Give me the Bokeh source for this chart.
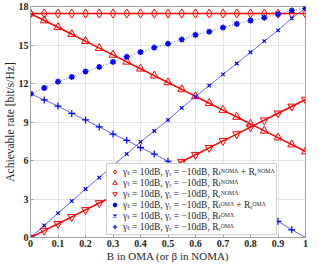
from bokeh.plotting import figure
from bokeh.models import Range1d, FixedTicker, Legend, LegendItem
from bokeh.embed import file_html
from bokeh.resources import INLINE

x = [0, 0.05, 0.1, 0.15, 0.2, 0.25, 0.3, 0.35, 0.4, 0.45, 0.5,
     0.55, 0.6, 0.65, 0.7, 0.75, 0.8, 0.85, 0.9, 0.95, 1.0]

noma_sum = [17.45] * 21
noma_t = [17.45, 16.91, 16.38, 15.84, 15.30, 14.76, 14.23, 13.69, 13.15, 12.61, 12.08,
          11.54, 11.00, 10.46, 9.93, 9.39, 8.85, 8.31, 7.78, 7.24, 6.70]
noma_r = [0.0, 0.54, 1.07, 1.61, 2.15, 2.69, 3.22, 3.76, 4.30, 4.84, 5.38,
          5.91, 6.45, 6.99, 7.53, 8.06, 8.60, 9.14, 9.68, 10.21, 10.75]
oma_sum = [11.2, 11.65, 12.14, 12.51, 12.94, 13.29, 13.68, 14.08, 14.45, 14.8, 15.1,
           15.42, 15.79, 16.04, 16.36, 16.64, 16.91, 17.13, 17.4, 17.68, 17.87]
oma_t = [0.0, 0.93, 1.9, 2.84, 3.78, 4.67, 5.62, 6.51, 7.45, 8.3, 9.16,
         10.1, 10.98, 11.84, 12.71, 13.56, 14.43, 15.3, 16.14, 17.08, 17.87]
oma_r = [11.2, 10.72, 10.24, 9.67, 9.16, 8.62, 8.06, 7.57, 7.0, 6.5, 5.94,
         5.32, 4.81, 4.2, 3.65, 3.08, 2.48, 1.83, 1.26, 0.6, 0.0]

x_ticks = [0, 0.1, 0.2, 0.3, 0.4, 0.5, 0.6, 0.7, 0.8, 0.9, 1]
x_tick_labels = ["0", "0.1", "0.2", "0.3", "0.4", "0.5", "0.6", "0.7", "0.8", "0.9", "1"]
y_ticks = [0, 3, 6, 9, 12, 15, 18]

labels = [
    "γₜ = 10dB, γᵣ = −10dB, Rₜᴺᴼᴹᴬ + Rᵣᴺᴼᴹᴬ",
    "γₜ = 10dB, γᵣ = −10dB, Rₜᴺᴼᴹᴬ",
    "γₜ = 10dB, γᵣ = −10dB, Rᵣᴺᴼᴹᴬ",
    "γₜ = 10dB, γᵣ = −10dB, Rₜᴼᴹᴬ + Rᵣᴼᴹᴬ",
    "γₜ = 10dB, γᵣ = −10dB, Rₜᴼᴹᴬ",
    "γₜ = 10dB, γᵣ = −10dB, Rᵣᴼᴹᴬ",
]

SERIF = "Liberation Serif, DejaVu Serif, serif"

p = figure(width=311, height=264, output_backend="svg", toolbar_location=None,
           x_range=Range1d(0, 1), y_range=Range1d(0, 18),
           min_border_left=14, min_border_right=6, min_border_top=6, min_border_bottom=20)

p.xaxis.ticker = FixedTicker(ticks=x_ticks)
p.xaxis.major_label_overrides = {t: l for t, l in zip(x_ticks, x_tick_labels)}
p.yaxis.ticker = FixedTicker(ticks=y_ticks)
for ax in (p.xaxis, p.yaxis):
    ax.major_label_text_font = SERIF
    ax.major_label_text_font_style = "bold"
    ax.major_label_text_font_size = "10px"
    ax.major_label_text_color = "#262626"
    ax.axis_label_text_font = SERIF
    ax.axis_label_text_font_style = "normal"
    ax.axis_label_text_color = "#262626"
    ax.axis_line_color = "#a0a0a0"
    ax.major_tick_line_color = "#a0a0a0"
    ax.major_tick_in = 3
    ax.major_tick_out = 0
    ax.minor_tick_line_color = None
    ax.major_label_standoff = 2
    ax.axis_label_standoff = 0
p.xaxis.axis_label_text_font_size = "11px"
p.yaxis.axis_label_text_font_size = "11.5px"
p.xaxis.axis_label = "B in OMA (or β in NOMA)"
p.yaxis.axis_label = "Achievable rate [bit/s/Hz]"
p.outline_line_color = "#a0a0a0"
p.grid.grid_line_color = "#e6e6e6"
p.grid.grid_line_width = 1

RED = "#ff0000"
BLUE = "#0000ff"

# lines
p.line(x, noma_sum, line_color=RED, line_width=1.5)
p.line(x, noma_t, line_color=RED, line_width=1.5)
p.line(x, noma_r, line_color=RED, line_width=1.5)
p.line(x, oma_sum, line_color=BLUE, line_width=1, line_alpha=0.6, line_dash="1 2")
p.line(x, oma_t, line_color=BLUE, line_width=1, line_alpha=0.6)
p.line(x, oma_r, line_color=BLUE, line_width=1, line_alpha=0.6)

# markers
m1 = p.scatter(x, noma_sum, marker="diamond", size=9, fill_color=None, line_color=RED, line_width=1)
m2 = p.scatter(x, noma_t, marker="triangle", size=8, fill_color=None, line_color=RED, line_width=1)
m3 = p.scatter(x, noma_r, marker="inverted_triangle", size=8, fill_color=None, line_color=RED, line_width=1)
m4 = p.scatter(x, oma_sum, marker="asterisk", size=6, line_color=BLUE, line_width=1.5)
m5 = p.scatter(x, oma_t, marker="x", size=5, line_color=BLUE, line_width=1.2)
m6 = p.scatter(x, oma_r, marker="cross", size=7, line_color=BLUE, line_width=1.2)

legend = Legend(items=[LegendItem(label=l, renderers=[r]) for l, r in
                       zip(labels, [m1, m2, m3, m4, m5, m6])],
                location=(76, 2))
legend.label_text_font = SERIF
legend.label_text_font_size = "9.5px"
legend.label_text_color = "#262626"
legend.label_height = 11
legend.glyph_height = 11
legend.glyph_width = 11
legend.label_standoff = 3
legend.spacing = 0
legend.padding = 2
legend.margin = 0
legend.border_line_color = "#a0a0a0"
legend.background_fill_alpha = 1
p.add_layout(legend, "center")

open("out.html", "w").write(file_html(p, INLINE))
